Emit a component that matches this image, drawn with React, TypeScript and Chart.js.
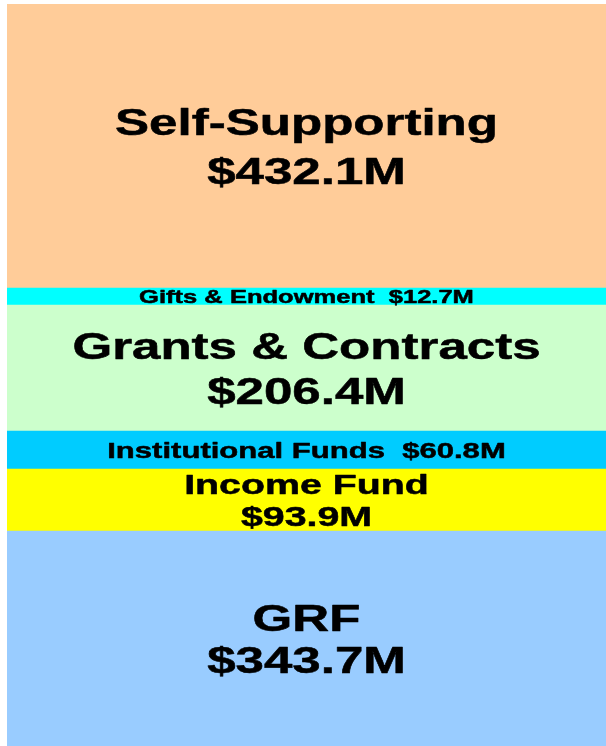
import React, { useEffect, useRef } from "react";
import { Chart, registerables } from "chart.js";

Chart.register(...registerables);

// Categories, bottom to top of the stacked bar
const categories = [
  "GRF",
  "Income Fund",
  "Institutional Funds",
  "Grants & Contracts",
  "Gifts & Endowment",
  "Self-Supporting",
];

// Amounts printed in the labels ($M)
const amounts = [343.7, 93.9, 60.8, 206.4, 12.7, 432.1];

// Segment sizes as drawn in the picture ($M-equivalent)
const segmentSizes = [333.1, 96.1, 58.9, 195.2, 26.3, 440.0];

const colors = ["#99CCFF", "#FFFF00", "#00CCFF", "#CCFFCC", "#00FFFF", "#FFCC99"];

// label styling per segment
const labelStyles = [
  { size: 37, lineHeight: 42, oneLine: false },
  { size: 28.5, lineHeight: 32, oneLine: false },
  { size: 22.5, lineHeight: 0, oneLine: true },
  { size: 37, lineHeight: 45, oneLine: false },
  { size: 18.5, lineHeight: 0, oneLine: true },
  { size: 37, lineHeight: 49, oneLine: false },
];

const STRETCH = 1.38;
const FONT = '"Liberation Sans", Arial, Helvetica, sans-serif';

const labelPlugin = {
  id: "segmentLabels",
  afterDatasetsDraw(chart: any) {
    const ctx = chart.ctx;
    ctx.save();
    ctx.fillStyle = "#000000";
    ctx.strokeStyle = "#000000";
    ctx.lineWidth = 0.5;
    ctx.lineJoin = "round";
    ctx.textAlign = "center";
    ctx.textBaseline = "alphabetic";
    chart.data.datasets.forEach((ds: any, i: number) => {
      const meta = chart.getDatasetMeta(i);
      const el = meta.data[0];
      if (!el) return;
      const props = el.getProps(["x", "y", "base"], true);
      const cx = props.x;
      const cy = (props.y + props.base) / 2;
      const st = labelStyles[i];
      const cap = st.size * 0.716;
      const amt = "$" + amounts[i].toFixed(1) + "M";
      const lines = st.oneLine
        ? [categories[i] + "  " + amt]
        : [categories[i], amt];
      ctx.font = `bold ${st.size}px ${FONT}`;
      const lh = st.lineHeight;
      const blockH = cap + lh * (lines.length - 1);
      const firstBase = cy - blockH / 2 + cap;
      lines.forEach((line: string, k: number) => {
        ctx.save();
        ctx.translate(cx, firstBase + k * lh);
        ctx.scale(STRETCH, 1);
        ctx.fillText(line, 0, 0);
        ctx.strokeText(line, 0, 0);
        ctx.restore();
      });
    });
    ctx.restore();
  },
};

export default function App() {
  const canvasRef = useRef<HTMLCanvasElement | null>(null);

  useEffect(() => {
    if (!canvasRef.current) return;
    const total = segmentSizes.reduce((a, b) => a + b, 0);
    const chart = new Chart(canvasRef.current, {
      type: "bar",
      data: {
        labels: ["Budget"],
        datasets: categories.map((c, i) => ({
          label: c,
          data: [segmentSizes[i]],
          backgroundColor: colors[i],
          borderWidth: 0,
          barPercentage: 1,
          categoryPercentage: 1,
        })),
      },
      options: {
        animation: false,
        responsive: true,
        maintainAspectRatio: false,
        layout: { padding: 0 },
        plugins: {
          legend: { display: false },
          tooltip: { enabled: false },
          title: { display: false },
        },
        scales: {
          x: { stacked: true, display: false },
          y: { stacked: true, display: false, min: 0, max: total },
        },
      },
      plugins: [labelPlugin],
    });
    return () => chart.destroy();
  }, []);

  return (
    <div
      style={{
        position: "fixed",
        left: 7,
        top: 4,
        width: 599,
        height: 742,
        background: "#ffffff",
      }}
    >
      <canvas ref={canvasRef} />
    </div>
  );
}
